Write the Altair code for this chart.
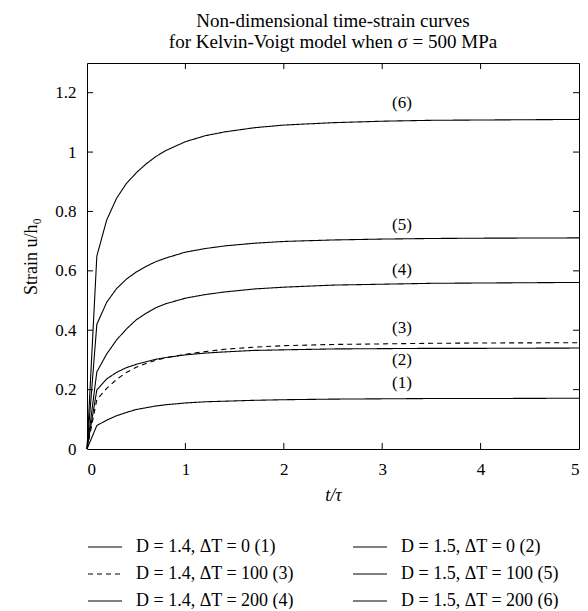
import altair as alt
import pandas as pd

# ---- data ----
t = [0, 0.1, 0.2, 0.3, 0.4, 0.5, 0.6, 0.7, 0.8, 1.0, 1.2, 1.4, 1.7, 2.0, 2.5, 3.0, 3.5, 4.0, 5.0]

c1 = [0, 0.079, 0.097, 0.112, 0.123, 0.133, 0.139, 0.145, 0.149, 0.155, 0.159, 0.161, 0.164, 0.166, 0.168, 0.169, 0.170, 0.170, 0.171]
c2 = [0, 0.199, 0.236, 0.258, 0.274, 0.285, 0.294, 0.302, 0.308, 0.317, 0.323, 0.327, 0.332, 0.334, 0.337, 0.338, 0.339, 0.339, 0.340]
c3 = [0, 0.166, 0.204, 0.234, 0.258, 0.275, 0.288, 0.299, 0.307, 0.319, 0.328, 0.336, 0.343, 0.348, 0.352, 0.354, 0.356, 0.357, 0.358]
c4 = [0, 0.260, 0.320, 0.367, 0.404, 0.435, 0.457, 0.476, 0.489, 0.508, 0.520, 0.529, 0.539, 0.545, 0.552, 0.555, 0.558, 0.559, 0.561]
c5 = [0, 0.420, 0.494, 0.540, 0.572, 0.596, 0.615, 0.631, 0.643, 0.663, 0.675, 0.684, 0.693, 0.699, 0.704, 0.707, 0.709, 0.710, 0.711]
c6 = [0, 0.650, 0.771, 0.844, 0.894, 0.930, 0.960, 0.985, 1.005, 1.035, 1.055, 1.068, 1.082, 1.091, 1.099, 1.104, 1.107, 1.108, 1.110]

names = [
    "D = 1.4, ΔT = 0 (1)",
    "D = 1.5, ΔT = 0 (2)",
    "D = 1.4, ΔT = 100 (3)",
    "D = 1.4, ΔT = 200 (4)",
    "D = 1.5, ΔT = 100 (5)",
    "D = 1.5, ΔT = 200 (6)",
]
# legend is filled column by column: left column (1),(3),(4); right column (2),(5),(6)
legend_order = [names[0], names[2], names[3], names[1], names[4], names[5]]
dash_for = {names[2]: [5, 4]}

label_text = ["(1)", "(2)", "(3)", "(4)", "(5)", "(6)"]
label_t = [3.2, 3.2, 3.2, 3.2, 3.2, 3.2]
label_u = [0.222, 0.300, 0.407, 0.603, 0.754, 1.165]

x_ticks = [0, 1, 2, 3, 4, 5]
y_ticks = [0, 0.2, 0.4, 0.6, 0.8, 1.0, 1.2]

title_lines = ["Non-dimensional time-strain curves", "for Kelvin-Voigt model when σ = 500 MPa"]

# ---- build tables ----
rows = []
for name, vals in zip(names, [c1, c2, c3, c4, c5, c6]):
    for ti, v in zip(t, vals):
        rows.append({"t": ti, "u": v, "series": name})
df = pd.DataFrame(rows)
lab_df = pd.DataFrame({"t": label_t, "u": label_u, "txt": label_text})
xt_df = pd.DataFrame({"t": x_ticks[1:-1]})
yt_df = pd.DataFrame({"u": y_ticks[1:]})

W, H = 492, 386
FONT = "Liberation Serif"
TL = 6

x_scale = alt.Scale(domain=[0, 5], nice=False, zero=False)
y_scale = alt.Scale(domain=[0, 1.3], nice=False, zero=False)

x_axis = alt.Axis(values=x_ticks, format="d", title="t/τ",
                  titleFontStyle="italic", labelPadding=12, titlePadding=9)
y_axis = alt.Axis(values=y_ticks, format="~g", title="Strain u/h₀",
                  labelPadding=11, titlePadding=14)

lines = alt.Chart(df).mark_line(strokeWidth=1.1, color="black").encode(
    x=alt.X("t:Q", scale=x_scale, axis=x_axis),
    y=alt.Y("u:Q", scale=y_scale, axis=y_axis),
    strokeDash=alt.StrokeDash(
        "series:N",
        scale=alt.Scale(domain=legend_order,
                        range=[dash_for.get(n, [1, 0]) for n in legend_order]),
        sort=legend_order,
        legend=alt.Legend(
            title=None, orient="none", legendX=0, legendY=466, columns=2,
            symbolType="stroke", symbolSize=1156, symbolStrokeWidth=1.1,
            symbolStrokeColor="black", labelFont=FONT, labelFontSize=18,
            labelColor="black", labelOffset=13, labelLimit=0,
            rowPadding=0, columnPadding=56,
        ),
    ),
    detail="series:N",
)

labels = alt.Chart(lab_df).mark_text(font=FONT, fontSize=17, color="black",
                                     align="center", baseline="middle").encode(
    x=alt.X("t:Q", scale=x_scale, axis=x_axis),
    y=alt.Y("u:Q", scale=y_scale, axis=y_axis),
    text="txt:N",
)

bottom_ticks = alt.Chart(xt_df).mark_rule(color="black", strokeWidth=1).encode(
    x=alt.X("t:Q", scale=x_scale, axis=x_axis), y=alt.value(H), y2=alt.value(H - TL))
top_ticks = alt.Chart(xt_df).mark_rule(color="black", strokeWidth=1).encode(
    x=alt.X("t:Q", scale=x_scale, axis=x_axis), y=alt.value(0), y2=alt.value(TL))
left_ticks = alt.Chart(yt_df).mark_rule(color="black", strokeWidth=1).encode(
    y=alt.Y("u:Q", scale=y_scale, axis=y_axis), x=alt.value(0), x2=alt.value(TL))
right_ticks = alt.Chart(yt_df).mark_rule(color="black", strokeWidth=1).encode(
    y=alt.Y("u:Q", scale=y_scale, axis=y_axis), x=alt.value(W - TL), x2=alt.value(W))

chart = alt.layer(lines, labels, bottom_ticks, top_ticks, left_ticks, right_ticks).properties(
    width=W, height=H,
    autosize=alt.AutoSizeParams(type="none"),
    padding={"left": 79, "top": 55, "right": 1, "bottom": 160},
    title=alt.Title(title_lines, font=FONT, fontSize=19, fontWeight="normal",
                    color="black", anchor="middle", offset=11, lineHeight=21),
).configure(
    background="white"
).configure_view(
    stroke="black", strokeWidth=1
).configure_axis(
    domain=False, ticks=False, tickSize=0, grid=False,
    labelFont=FONT, labelFontSize=17, labelColor="black",
    titleFont=FONT, titleFontSize=18, titleColor="black", titleFontWeight="normal",
)

chart.save("out.html", embed_options={"renderer": "svg", "actions": False})
